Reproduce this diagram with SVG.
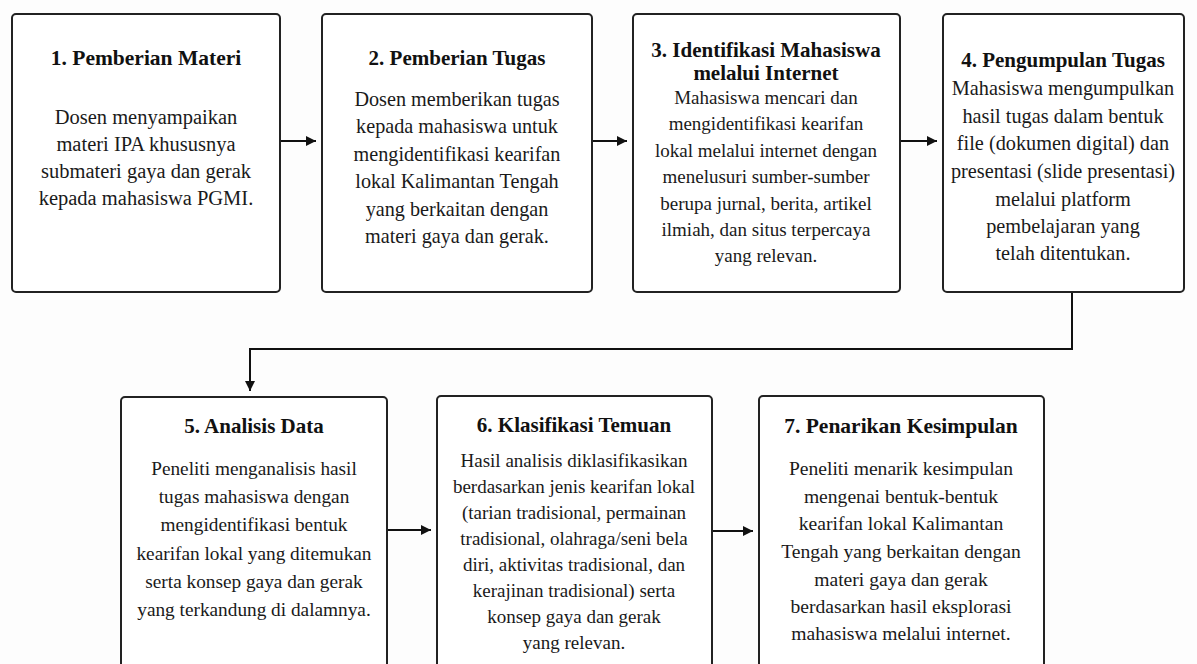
<svg xmlns="http://www.w3.org/2000/svg" width="1197" height="664" viewBox="0 0 1197 664">
<defs>
<style>
.box{fill:#ffffff;stroke:#222;stroke-width:2}
.t{font-family:"Liberation Serif","DejaVu Serif",serif;font-size:21px;font-weight:bold;fill:#111;text-anchor:middle}
.b{font-family:"Liberation Serif","DejaVu Serif",serif;font-size:19.5px;fill:#1a1a1a;text-anchor:middle}
.c{fill:none;stroke:#111;stroke-width:2}
</style>
<marker id="ah" viewBox="0 0 10 10" refX="10" refY="5" markerWidth="10" markerHeight="10" markerUnits="userSpaceOnUse" orient="auto">
<path d="M0,0 L10,5 L0,10 z" fill="#111"/>
</marker>
</defs>
<rect width="1197" height="664" fill="#fdfdfd"/>
<g id="connectors">
<line class="c" x1="281" y1="141" x2="316" y2="141" marker-end="url(#ah)"/>
<line class="c" x1="593" y1="141" x2="627" y2="141" marker-end="url(#ah)"/>
<line class="c" x1="901" y1="141" x2="937" y2="141" marker-end="url(#ah)"/>
<polyline class="c" points="1072,293 1072,349 250,349 250,391" marker-end="url(#ah)"/>
<line class="c" x1="388" y1="530" x2="431" y2="530" marker-end="url(#ah)"/>
<line class="c" x1="713" y1="531" x2="753" y2="531" marker-end="url(#ah)"/>
</g>
<g id="node1">
<rect class="box" x="12" y="14" width="268" height="278" rx="4"/>
<text class="t" x="146" y="65" style="font-size:21.5px">1. Pemberian Materi</text>
<g style="font-size:20.5px">
<text class="b" x="146" y="124" style="font-size:20.5px">Dosen menyampaikan</text>
<text class="b" x="146" y="151" style="font-size:20.5px">materi IPA khususnya</text>
<text class="b" x="146" y="178" style="font-size:20.5px">submateri gaya dan gerak</text>
<text class="b" x="146" y="205" style="font-size:20.5px">kepada mahasiswa PGMI.</text>
</g>
</g>
<g id="node2">
<rect class="box" x="322" y="14" width="270" height="278" rx="4"/>
<text class="t" x="457" y="65">2. Pemberian Tugas</text>
<text class="b" x="457" y="106" style="font-size:20.2px">Dosen memberikan tugas</text>
<text class="b" x="457" y="133" style="font-size:20.2px">kepada mahasiswa untuk</text>
<text class="b" x="457" y="161" style="font-size:20.2px">mengidentifikasi kearifan</text>
<text class="b" x="457" y="188" style="font-size:20.2px">lokal Kalimantan Tengah</text>
<text class="b" x="457" y="216" style="font-size:20.2px">yang berkaitan dengan</text>
<text class="b" x="457" y="243" style="font-size:20.2px">materi gaya dan gerak.</text>
</g>
<g id="node3">
<rect class="box" x="633" y="14" width="267" height="278" rx="4"/>
<text class="t" x="766" y="57">3. Identifikasi Mahasiswa</text>
<text class="t" x="766" y="80">melalui Internet</text>
<text class="b" x="766" y="104" style="font-size:19px">Mahasiswa mencari dan</text>
<text class="b" x="766" y="130" style="font-size:19px">mengidentifikasi kearifan</text>
<text class="b" x="766" y="157" style="font-size:19px">lokal melalui internet dengan</text>
<text class="b" x="766" y="183" style="font-size:19px">menelusuri sumber-sumber</text>
<text class="b" x="766" y="210" style="font-size:19px">berupa jurnal, berita, artikel</text>
<text class="b" x="766" y="236" style="font-size:19px">ilmiah, dan situs terpercaya</text>
<text class="b" x="766" y="262" style="font-size:19px">yang relevan.</text>
</g>
<g id="node4">
<rect class="box" x="943" y="14" width="241" height="278" rx="4"/>
<text class="t" x="1063" y="67">4. Pengumpulan Tugas</text>
<text class="b" x="1063" y="95" style="font-size:20.3px">Mahasiswa mengumpulkan</text>
<text class="b" x="1063" y="123" style="font-size:20.3px">hasil tugas dalam bentuk</text>
<text class="b" x="1063" y="150" style="font-size:20.3px">file (dokumen digital) dan</text>
<text class="b" x="1063" y="178" style="font-size:20.3px">presentasi (slide presentasi)</text>
<text class="b" x="1063" y="206" style="font-size:20.3px">melalui platform</text>
<text class="b" x="1063" y="233" style="font-size:20.3px">pembelajaran yang</text>
<text class="b" x="1063" y="260" style="font-size:20.3px">telah ditentukan.</text>
</g>
<g id="node5">
<rect class="box" x="121" y="397" width="266" height="290" rx="4"/>
<text class="t" x="254" y="433">5. Analisis Data</text>
<text class="b" x="254" y="475" style="font-size:19.3px">Peneliti menganalisis hasil</text>
<text class="b" x="254" y="503" style="font-size:19.3px">tugas mahasiswa dengan</text>
<text class="b" x="254" y="531" style="font-size:19.3px">mengidentifikasi bentuk</text>
<text class="b" x="254" y="560" style="font-size:19.3px">kearifan lokal yang ditemukan</text>
<text class="b" x="254" y="588" style="font-size:19.3px">serta konsep gaya dan gerak</text>
<text class="b" x="254" y="616" style="font-size:19.3px">yang terkandung di dalamnya.</text>
</g>
<g id="node6">
<rect class="box" x="437" y="396" width="275" height="290" rx="4"/>
<text class="t" x="574" y="432">6. Klasifikasi Temuan</text>
<text class="b" x="574" y="467" style="font-size:19px">Hasil analisis diklasifikasikan</text>
<text class="b" x="574" y="493" style="font-size:19px">berdasarkan jenis kearifan lokal</text>
<text class="b" x="574" y="519" style="font-size:19px">(tarian tradisional, permainan</text>
<text class="b" x="574" y="545" style="font-size:19px">tradisional, olahraga/seni bela</text>
<text class="b" x="574" y="571" style="font-size:19px">diri, aktivitas tradisional, dan</text>
<text class="b" x="574" y="597" style="font-size:19px">kerajinan tradisional) serta</text>
<text class="b" x="574" y="623" style="font-size:19px">konsep gaya dan gerak</text>
<text class="b" x="574" y="649" style="font-size:19px">yang relevan.</text>
</g>
<g id="node7">
<rect class="box" x="759" y="396" width="285" height="290" rx="4"/>
<text class="t" x="901" y="433" style="font-size:21.5px">7. Penarikan Kesimpulan</text>
<text class="b" x="901" y="475" style="font-size:19.6px">Peneliti menarik kesimpulan</text>
<text class="b" x="901" y="503" style="font-size:19.6px">mengenai bentuk-bentuk</text>
<text class="b" x="901" y="530" style="font-size:19.6px">kearifan lokal Kalimantan</text>
<text class="b" x="901" y="558" style="font-size:19.6px">Tengah yang berkaitan dengan</text>
<text class="b" x="901" y="586" style="font-size:19.6px">materi gaya dan gerak</text>
<text class="b" x="901" y="613" style="font-size:19.6px">berdasarkan hasil eksplorasi</text>
<text class="b" x="901" y="640" style="font-size:19.6px">mahasiswa melalui internet.</text>
</g>
</svg>
